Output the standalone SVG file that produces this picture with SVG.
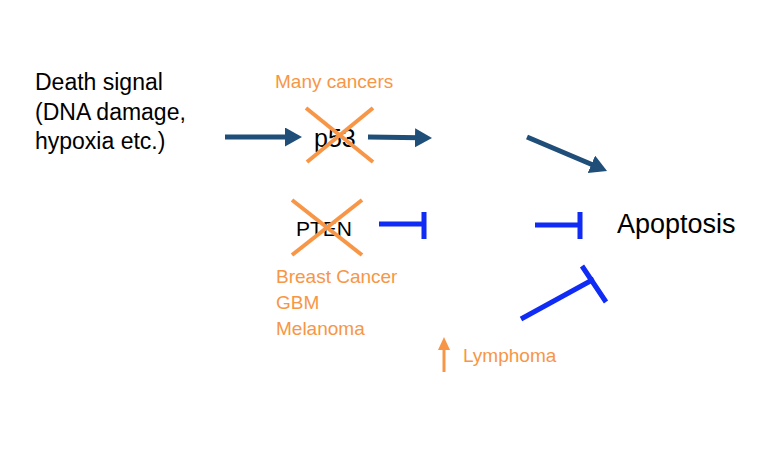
<svg xmlns="http://www.w3.org/2000/svg" width="758" height="472" viewBox="0 0 758 472">
<style>
text{font-family:"Liberation Sans",Arial,sans-serif}
.blk{fill:#000}
.org{fill:#F79646}
.act{stroke:#1F4E79;stroke-width:5;fill:none}
.inh{stroke:#0F2BF5;stroke-width:5;fill:none}
.x{stroke:#F79646;stroke-width:4}
</style>
<defs>
<marker id="ah" markerUnits="userSpaceOnUse" markerWidth="20" markerHeight="20" refX="5" refY="9.5" orient="auto">
<path d="M0,0 L17,9.5 L0,19 Z" fill="#1F4E79"/>
</marker>
</defs>
<rect width="758" height="472" fill="#fff"/>
<g id="death-signal">
<text class="blk" font-size="23" x="35" y="90">Death signal</text>
<text class="blk" font-size="23" x="35" y="120">(DNA damage,</text>
<text class="blk" font-size="23" x="35" y="149">hypoxia etc.)</text>
</g>
<g id="p53">
<text class="org" font-size="19" x="275" y="88">Many cancers</text>
<text class="blk" font-size="25" x="314" y="147">p53</text>
<line class="x" x1="306" y1="108" x2="373" y2="162"/>
<line class="x" x1="373" y1="108" x2="307" y2="162"/>
</g>
<g id="pten">
<text class="blk" font-size="21" x="296" y="236">PTEN</text>
<line class="x" x1="292" y1="200" x2="362" y2="255"/>
<line class="x" x1="362" y1="200" x2="292" y2="255"/>
<text class="org" font-size="19" x="276" y="283">Breast Cancer</text>
<text class="org" font-size="19" x="276" y="309">GBM</text>
<text class="org" font-size="19" x="276" y="335">Melanoma</text>
</g>
<g id="apoptosis">
<text class="blk" font-size="27" x="617" y="233">Apoptosis</text>
</g>
<g id="lymphoma">
<line x1="444" y1="372" x2="444" y2="348" stroke="#F79646" stroke-width="3"/>
<path d="M438,350 L444,337 L450,350 Z" fill="#F79646"/>
<text class="org" font-size="19" x="463" y="362">Lymphoma</text>
</g>
<g id="connectors">
<line class="act" x1="225" y1="137" x2="290" y2="137" marker-end="url(#ah)"/>
<line class="act" x1="368" y1="137" x2="420" y2="137.8" marker-end="url(#ah)"/>
<line class="act" x1="527" y1="137" x2="596" y2="166.3" marker-end="url(#ah)"/>
<path class="inh" d="M379,224 L424,224 M424,212 L424,239"/>
<path class="inh" d="M535,225 L580,225 M580,212 L580,239"/>
<path class="inh" d="M521,319 L594,279 M582,266 L606,302"/>
</g>
</svg>
